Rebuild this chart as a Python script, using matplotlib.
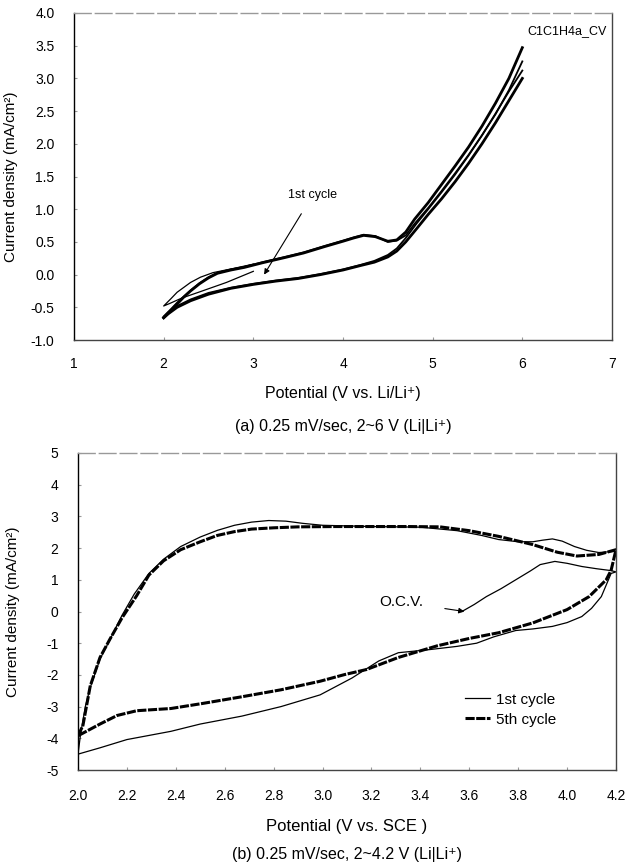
import numpy as np
import matplotlib
matplotlib.use("Agg")
import matplotlib.pyplot as plt

plt.rcParams['font.family'] = ['Liberation Sans', 'DejaVu Sans']
plt.rcParams['axes.unicode_minus'] = False

# ---- panel (a): CV 2~6 V vs Li/Li+ ----
# 1st cycle (thin), starts at OCV ~3.0 V
a1_x = [3.0, 2.7, 2.41, 2.2, 2.07, 2.0, 2.08, 2.15, 2.3, 2.41, 2.55, 2.8, 3.0]
a1_y = [0.05, -0.12, -0.26, -0.36, -0.44, -0.48, -0.37, -0.27, -0.12, -0.04, 0.03, 0.1, 0.16]

# anodic branches (2 -> 6 V), later cycles
up_x = [2.0, 2.08, 2.15, 2.22, 2.3, 2.4, 2.5, 2.6, 2.75, 2.9, 3.1, 3.35, 3.56, 3.8, 4.0,
        4.12, 4.23, 4.36, 4.5, 4.6, 4.7, 4.8, 4.95, 5.1, 5.25, 5.4, 5.55, 5.7, 5.85, 6.0]
up_a = [-0.66, -0.55, -0.45, -0.35, -0.25, -0.14, -0.05, 0.02, 0.07, 0.11, 0.18, 0.26, 0.33,
        0.43, 0.51, 0.56, 0.6, 0.58, 0.51, 0.53, 0.65, 0.85, 1.1, 1.38, 1.66, 1.95, 2.27,
        2.62, 3.0, 3.47]
up_b = [-0.64, -0.53, -0.43, -0.34, -0.24, -0.13, -0.04, 0.03, 0.08, 0.12, 0.19, 0.27, 0.34,
        0.44, 0.52, 0.57, 0.61, 0.59, 0.5, 0.52, 0.6, 0.78, 1.02, 1.28, 1.55, 1.83, 2.13,
        2.45, 2.82, 3.26]

# cathodic branches (6 -> 2 V)
dn_x = [6.0, 5.85, 5.7, 5.55, 5.4, 5.25, 5.1, 4.95, 4.82, 4.7, 4.6, 4.5, 4.35, 4.2,
        4.0, 3.75, 3.5, 3.25, 3.0, 2.75, 2.5, 2.3, 2.15, 2.05, 2.0]
dn_a = [3.0, 2.66, 2.32, 2.0, 1.7, 1.42, 1.16, 0.92, 0.7, 0.5, 0.36, 0.27, 0.19, 0.14,
        0.07, 0.0, -0.06, -0.1, -0.15, -0.21, -0.3, -0.4, -0.5, -0.6, -0.66]
dn_b = [3.12, 2.8, 2.46, 2.13, 1.82, 1.53, 1.26, 1.0, 0.78, 0.56, 0.4, 0.3, 0.21, 0.15,
        0.08, 0.01, -0.05, -0.09, -0.14, -0.2, -0.28, -0.38, -0.48, -0.58, -0.65]

# ---- panel (b): CV 2~4.2 V vs SCE ----
# 1st cycle: OCV -> 4.2, 4.2 -> 2.0, 2.0 -> 4.2
b1_x = [3.57, 3.62, 3.67, 3.73, 3.79, 3.85, 3.89, 3.95, 4.0, 4.06, 4.12, 4.18, 4.2,
        4.18, 4.14, 4.1, 4.06, 4.0, 3.94, 3.86, 3.79, 3.7, 3.63, 3.55, 3.44, 3.31, 3.23,
        3.12, 2.99, 2.83, 2.67, 2.5, 2.38, 2.2, 2.09, 2.0,
        2.01, 2.03, 2.05, 2.09, 2.13, 2.18, 2.23, 2.29, 2.35, 2.42, 2.5, 2.57, 2.64,
        2.71, 2.78, 2.85, 2.92, 3.0, 3.2, 3.4, 3.55, 3.65, 3.72, 3.8, 3.86, 3.9, 3.94,
        3.98, 4.03, 4.08, 4.13, 4.2]
b1_y = [0.0, 0.22, 0.47, 0.72, 1.0, 1.28, 1.48, 1.58, 1.52, 1.42, 1.35, 1.29, 1.25,
        1.2, 0.47, 0.1, -0.16, -0.35, -0.47, -0.55, -0.6, -0.8, -1.0, -1.1, -1.2, -1.3, -1.56,
        -2.1, -2.63, -3.0, -3.3, -3.55, -3.78, -4.04, -4.3, -4.5,
        -3.9, -3.0, -2.4, -1.5, -0.9, -0.12, 0.55, 1.2, 1.65, 2.05, 2.35, 2.56, 2.72,
        2.82, 2.87, 2.85, 2.78, 2.72, 2.68, 2.66, 2.55, 2.4, 2.27, 2.2, 2.2, 2.25, 2.29,
        2.22, 2.05, 1.93, 1.86, 1.9]

# 5th cycle
b5_x = [2.0, 2.02, 2.05, 2.09, 2.13, 2.18, 2.24, 2.29, 2.35, 2.42, 2.5, 2.57, 2.64,
        2.71, 2.8, 2.9, 3.05, 3.2, 3.35, 3.48, 3.6, 3.72, 3.86, 3.96, 4.04, 4.13, 4.2,
        4.18, 4.16, 4.09, 4.0, 3.86, 3.72, 3.6, 3.47, 3.31, 3.18, 3.09, 2.99, 2.83, 2.67,
        2.51, 2.38, 2.3, 2.24, 2.16, 2.09, 2.0]
b5_y = [-3.92, -3.6, -2.35, -1.45, -0.88, -0.2, 0.5, 1.15, 1.6, 1.95, 2.2, 2.4, 2.52,
        2.6, 2.64, 2.67, 2.68, 2.68, 2.68, 2.67, 2.55, 2.37, 2.11, 1.87, 1.75, 1.8, 1.95,
        1.3, 1.0, 0.47, 0.06, -0.36, -0.67, -0.85, -1.08, -1.45, -1.83, -1.99, -2.2, -2.47, -2.69,
        -2.9, -3.06, -3.1, -3.13, -3.28, -3.55, -3.92]

W, H = 627, 867
fig = plt.figure(figsize=(W / 100, H / 100), dpi=100)

def box(l, t, r, b):
    return [l / W, 1 - b / H, (r - l) / W, (b - t) / H]

def style(ax):
    ax.spines['left'].set_color('black')
    for s in ['bottom', 'right']:
        ax.spines[s].set_color('#444444')
    ax.spines['top'].set_color('#999999')
    ax.spines['top'].set_linestyle((0, (12, 3)))
    for s in ax.spines.values():
        s.set_linewidth(1.0)
    ax.tick_params(direction='in', length=2, color='#999999', labelsize=10)

# panel (a)
ax1 = fig.add_axes(box(74, 13, 612, 340))
ax1.plot(dn_x, dn_a, color='black', lw=2.0)
ax1.plot(dn_x, dn_b, color='black', lw=1.3)
ax1.plot(up_x, up_a, color='black', lw=2.0)
ax1.plot(up_x, up_b, color='black', lw=1.3)
ax1.plot(a1_x, a1_y, color='black', lw=0.9)
ax1.set_xlim(1, 7)
ax1.set_ylim(-1.0, 4.0)
ax1.set_xticks(range(1, 8))
ax1.set_yticks(np.arange(-1.0, 4.01, 0.5))
ax1.yaxis.set_major_formatter(matplotlib.ticker.FormatStrFormatter('%.1f'))
ax1.tick_params(axis='y', pad=14)
ax1.tick_params(axis='x', pad=12)
style(ax1)
ax1.text(0.99, 3.73, 'C1C1H4a_CV', transform=ax1.get_yaxis_transform(), ha='right',
         va='center', fontsize=9)
ax1.annotate('1st cycle', xy=(3.12, 0.0), xytext=(3.66, 1.21), fontsize=9,
             ha='center', va='center',
             arrowprops=dict(arrowstyle='-|>', color='black', lw=0.8, shrinkA=8, shrinkB=0,
                             mutation_scale=8))
ax1.set_ylabel('Current density (mA/cm²)', fontsize=11)
ax1.yaxis.set_label_coords(-0.105, 0.5)
fig.text(343 / W, 1 - 393 / H, 'Potential (V vs. Li/Li⁺)', ha='center', va='center', fontsize=11.5)
fig.text(343 / W, 1 - 427 / H, '(a) 0.25 mV/sec, 2~6 V (Li|Li⁺)', ha='center', va='center',
         fontsize=11.5)

# panel (b)
ax2 = fig.add_axes(box(78, 453, 616, 770))
ax2.plot(b1_x, b1_y, color='black', lw=0.9, label='1st cycle')
ax2.plot(b5_x, b5_y, color='black', lw=2.2, linestyle=(0, (3, 0.5)), label='5th cycle')
ax2.set_xlim(2.0, 4.2)
ax2.set_ylim(-5, 5)
ax2.set_xticks(np.arange(2.0, 4.21, 0.2))
ax2.set_yticks(range(-5, 6))
ax2.xaxis.set_major_formatter(matplotlib.ticker.FormatStrFormatter('%.1f'))
ax2.tick_params(axis='y', pad=14)
ax2.tick_params(axis='x', pad=14)
style(ax2)
ax2.annotate('O.C.V.', xy=(3.58, 0.0), xytext=(3.32, 0.3), fontsize=11,
             ha='center', va='center',
             arrowprops=dict(arrowstyle='-|>', color='black', lw=0.8, shrinkA=14, shrinkB=0,
                             mutation_scale=8))
ax2.legend(loc='center left', bbox_to_anchor=(0.72, 0.19), frameon=False, fontsize=11,
           handlelength=1.6, borderaxespad=0, borderpad=0, labelspacing=0.4,
           handletextpad=0.4)
ax2.set_ylabel('Current density (mA/cm²)', fontsize=11)
ax2.yaxis.set_label_coords(-0.107, 0.5)
fig.text(347 / W, 1 - 826 / H, 'Potential (V vs. SCE )', ha='center', va='center', fontsize=12)
fig.text(347 / W, 1 - 855 / H, '(b) 0.25 mV/sec, 2~4.2 V (Li|Li⁺)', ha='center', va='center',
         fontsize=11.5)

fig.savefig('out.png', dpi=100)
